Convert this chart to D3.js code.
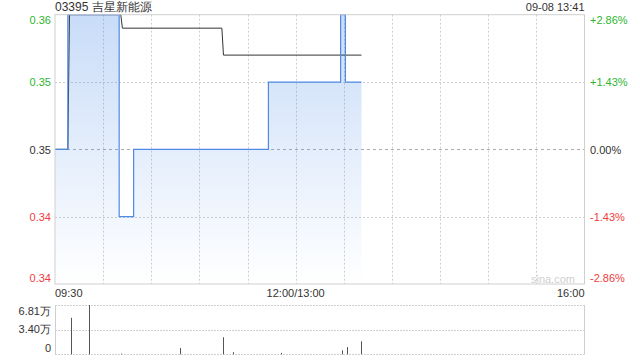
<!DOCTYPE html>
<html><head><meta charset="utf-8">
<script src="https://cdn.jsdelivr.net/npm/d3@7"></script>
<style>body{margin:0;background:#fff;}svg{display:block;font-family:"Liberation Sans",Arial,sans-serif;}</style>
</head><body><svg id="c" width="640" height="360"></svg>
<script>
const title = "03395 吉星新能源";
const stamp = "09-08 13:41";
const prevClose = 0.35;
const priceTimes = ["09:30","09:38","10:10","10:19","11:43","13:28","13:31","13:41"];
const priceValues = [0.35, 0.36, 0.345, 0.35, 0.355, 0.36, 0.355, 0.355];
const avgTimes = ["09:30","09:38","09:39","10:11","10:12","11:14","11:15","13:41"];
const avgValues = [0.35, 0.35, 0.36, 0.36, 0.359, 0.359, 0.357, 0.357];
const volTimes = ["09:40","09:51","10:11","10:48","11:15","11:21","11:51","13:29","13:32","13:41"];
const volValues = [5.04, 6.81, 0.1, 0.88, 2.36, 0.3, 0.2, 0.55, 1.0, 1.8];
const leftLabels = ["0.36","0.35","0.35","0.34","0.34"];
const rightLabels = ["+2.86%","+1.43%","0.00%","-1.43%","-2.86%"];
const levelValues = [0.36, 0.355, 0.35, 0.345, 0.34];
const xLabels = ["09:30","12:00/13:00","16:00"];
const volLabels = ["6.81万","3.40万","0"];
const volLevels = [6.81, 3.40, 0];

const svg = d3.select("#c");
const L = 55, R = 584.5, T = 14.7, B = 284, VT = 305, VB = 354.3;
const green = "#2eb62e", red = "#f03c3c", grid = "#cfcfcf", lineBlue = "#4f8be6";

function mi(s){const [h,m]=s.split(":").map(Number);const t=h*60+m;return t<=720? t-570 : t-780+150;}
const x = d3.scaleLinear().domain([0,330]).range([L,R]);
const y = d3.scaleLinear().domain([0.34,0.36]).range([B,T]);
const yv = d3.scaleLinear().domain([0,6.81]).range([VB,VT]);

const defs = svg.append("defs");
const g = defs.append("linearGradient").attr("id","fill").attr("x1",0).attr("y1",0).attr("x2",0).attr("y2",1)
  .attr("gradientUnits","userSpaceOnUse").attr("y1",T).attr("y2",B).attr("x1",0).attr("x2",0);
g.append("stop").attr("offset",0).attr("stop-color","#4a8be8").attr("stop-opacity",0.3);
g.append("stop").attr("offset",1).attr("stop-color","#4a8be8").attr("stop-opacity",0.0);

// vertical gridlines
for(let i=1;i<11;i++){
  const xx = Math.round(x(i*30))+0.5;
  svg.append("line").attr("x1",xx).attr("x2",xx).attr("y1",T).attr("y2",B).attr("stroke",grid).attr("stroke-dasharray","2,2");
}
// horizontal gridlines
levelValues.forEach((v,i)=>{
  if(i===0||i===4) return;
  const yy = Math.round(y(v))+0.5;
  svg.append("line").attr("x1",L).attr("x2",R).attr("y1",yy).attr("y2",yy)
    .attr("stroke", i===2? "#aaa":grid).attr("stroke-dasharray", i===2? "3,3":"2,2");
});

const pData = priceTimes.map((t,i)=>({t:mi(t),v:priceValues[i]}));
const aData = avgTimes.map((t,i)=>({t:mi(t),v:avgValues[i]}));

svg.append("path").datum(pData)
  .attr("d", d3.area().curve(d3.curveStepAfter).x(d=>x(d.t)).y0(B).y1(d=>y(d.v)))
  .attr("fill","url(#fill)");
svg.append("path").datum(aData)
  .attr("d", d3.line().x(d=>x(d.t)).y(d=>y(d.v)))
  .attr("fill","none").attr("stroke","#333").attr("stroke-width",1);
svg.append("path").datum(pData)
  .attr("d", d3.line().curve(d3.curveStepAfter).x(d=>x(d.t)).y(d=>y(d.v)))
  .attr("fill","none").attr("stroke",lineBlue).attr("stroke-width",1.2);

// borders
svg.append("rect").attr("x",L).attr("y",T).attr("width",R-L).attr("height",B-T)
  .attr("fill","none").attr("stroke",grid).attr("stroke-width",1);

// labels
svg.append("text").attr("x",L).attr("y",11).attr("font-size",12).attr("fill","#333").text(title);
svg.append("text").attr("x",R).attr("y",11).attr("font-size",11).attr("fill","#333").attr("text-anchor","end").text(stamp);
const labY = [20,82.3,149.7,217.3,278];
const labC = [green,green,"#333",red,red];
leftLabels.forEach((s,i)=>{
  svg.append("text").attr("x",51).attr("y",labY[i]).attr("dy","0.35em").attr("text-anchor","end")
    .attr("font-size",11).attr("fill",labC[i]).text(s);
});
rightLabels.forEach((s,i)=>{
  svg.append("text").attr("x",590).attr("y",labY[i]).attr("dy","0.35em")
    .attr("font-size",11).attr("fill",labC[i]).text(s);
});
const xl = [[x(0),"start"],[x(150),"middle"],[x(330),"end"]];
xLabels.forEach((s,i)=>{
  svg.append("text").attr("x",xl[i][0]).attr("y",293).attr("dy","0.35em").attr("text-anchor",xl[i][1])
    .attr("font-size",11).attr("fill","#333").text(s);
});
svg.append("text").attr("x",553).attr("y",279).attr("dy","0.35em").attr("text-anchor","middle")
  .attr("font-size",11).attr("fill","#d0d0d0").text("sina.com");

// volume panel
volLevels.forEach(v=>{
  const yy = Math.round(yv(v))+0.5;
  svg.append("line").attr("x1",L).attr("x2",R).attr("y1",yy).attr("y2",yy).attr("stroke",grid).attr("stroke-dasharray","2,1");
});
svg.append("line").attr("x1",L+0.5).attr("x2",L+0.5).attr("y1",VT).attr("y2",VB).attr("stroke",grid);
svg.append("line").attr("x1",R).attr("x2",R).attr("y1",VT).attr("y2",VB).attr("stroke",grid);
volTimes.forEach((t,i)=>{
  const xx = Math.round(x(mi(t)))+0.5;
  svg.append("line").attr("x1",xx).attr("x2",xx).attr("y1",yv(0)).attr("y2",yv(volValues[i])).attr("stroke","#555").attr("stroke-width",1);
});
const vlY = [311,329.5,348];
volLabels.forEach((s,i)=>{
  svg.append("text").attr("x",51).attr("y",vlY[i]).attr("dy","0.35em").attr("text-anchor","end")
    .attr("font-size",11).attr("fill","#333").text(s);
});
</script></body></html>
